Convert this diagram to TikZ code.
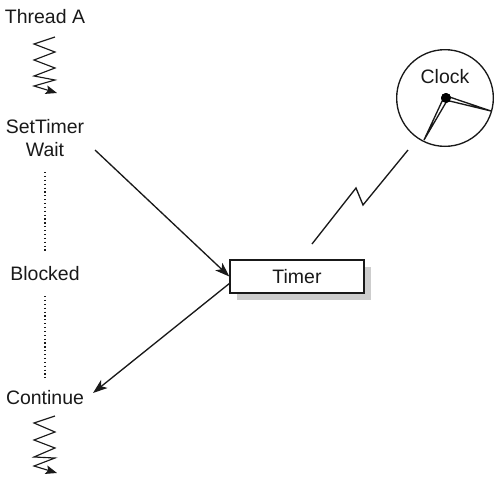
\documentclass[tikz,border=0pt]{standalone}
\usepackage{fontspec}
\setmainfont{Liberation Sans}
\usetikzlibrary{arrows.meta, calc, shadows}
\definecolor{tmink}{RGB}{25,25,25}
\definecolor{tmshadow}{RGB}{205,205,205}

\begin{document}
\begin{tikzpicture}[
    x=0.75pt, y=-0.75pt,
    lbl/.style={inner sep=0pt, align=center, text=tmink, font=\fontsize{14.6}{17.2}\selectfont},
    box/.style={draw=tmink, line width=1pt, fill=white, minimum width=100.5pt, minimum height=24.75pt, inner sep=0pt, text=tmink, font=\fontsize{14.6}{17.2}\selectfont,
      drop shadow={shadow xshift=5.25pt, shadow yshift=-5.6pt, fill=tmshadow, opacity=1}},
    arr/.style={-{Stealth[length=3.8mm, width=2.7mm, inset=1mm]}, line width=1pt, draw=tmink},
    zig/.style={-{Stealth[length=3mm, width=2.3mm, inset=0.6mm]}, line width=0.85pt, draw=tmink},
    wait/.style={dotted, line width=0.9pt, draw=tmink, shorten >=12pt, shorten <=11pt},
    hand/.style={draw=tmink, line width=1pt, fill=white, line join=miter}
  ]
    \useasboundingbox (0,0) rectangle (500,483);

    \node[lbl] (threada) at (45,17) {Thread A};
    \node[lbl] (settimer) at (45,138.5) {SetTimer\\Wait};
    \node[lbl] (blocked) at (45,274) {Blocked};
    \node[lbl] (continue) at (45,398) {Continue};
    \node[box] (timer) at (297,276.5) {Timer};
    \node[draw=tmink, line width=1pt, circle, minimum size=72.5pt, inner sep=0pt] (clock) at (445,98) {};
    \node[lbl] (clocklbl) at (445,77) {Clock};

    \coordinate (callout) at (95,150);
    \coordinate (fireout) at (230,283);
    \coordinate (firein) at (93,393);
    \coordinate (sparka) at (312,244);
    \coordinate (sparkb) at (408,150);

    \draw[arr] (callout) -- (timer.west);
    \draw[arr] (fireout) -- (firein);
    \draw[wait] (settimer) -- (blocked);
    \draw[wait, shorten >=9pt] (blocked) -- (continue);
    \draw[line width=1pt, draw=tmink] (sparka) -- (356,188) -- (363,205) -- (sparkb);

    % running thread, top and bottom
    \coordinate (ziga) at (55,37);
    \coordinate (zigb) at (55,416);
    \draw[zig] (ziga) -- ++(-21,7) -- ++(21,8) -- ++(-21,8) -- ++(21,8) -- ++(-21,8) -- ++(21,4) -- ++(-21,6) -- ++(23,7);
    \draw[zig] (zigb) -- ++(-21,7) -- ++(21,9) -- ++(-21,8) -- ++(21,8) -- ++(-21,9) -- ++(21,1) -- ++(-21,8) -- ++(23,7);

    % clock hands
    \node[circle, fill=black, minimum size=7.5pt, inner sep=0pt] (hub) at (446,98) {};
    \coordinate (tipa) at (491,111);
    \coordinate (tipb) at (424,140);
    \draw[hand] ($(hub)+(-0.5,2)$) -- (tipa) -- ($(hub)+(0.5,-2)$);
    \draw[hand] ($(hub)+(2,1)$) -- (tipb) -- ($(hub)+(-2,-1)$);
    \node[circle, fill=black, minimum size=7.5pt, inner sep=0pt] at (hub) {};
\end{tikzpicture}
\end{document}
